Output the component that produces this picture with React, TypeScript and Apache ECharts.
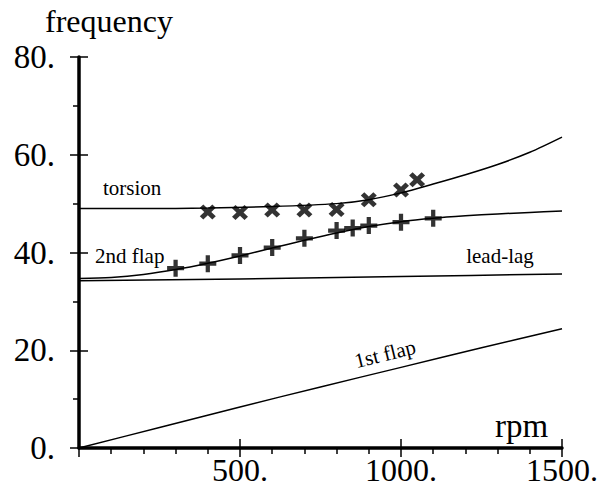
import React, { useEffect, useRef } from "react";
import * as echarts from "echarts";

// curves: rpm -> frequency
const firstFlapRpm = [0, 250, 500, 750, 1000, 1250, 1500];
const firstFlapFreq = [0, 4.2, 8.4, 12.5, 16.5, 20.5, 24.4];

const leadLagRpm = [0, 500, 1000, 1500];
const leadLagFreq = [34.2, 34.6, 35.1, 35.6];

const secondFlapRpm = [0, 100, 200, 300, 400, 500, 600, 700, 800, 900, 1000, 1100, 1200, 1300, 1400, 1500];
const secondFlapFreq = [34.7, 34.9, 35.5, 36.5, 37.8, 39.3, 40.9, 42.5, 44.0, 45.3, 46.3, 47.0, 47.5, 47.9, 48.2, 48.5];

const torsionRpm = [0, 200, 400, 600, 800, 900, 1000, 1100, 1200, 1300, 1400, 1500];
const torsionFreq = [49.0, 49.0, 49.1, 49.4, 50.0, 50.8, 52.2, 54.0, 55.9, 58.0, 60.5, 63.6];

// measured points
const crossRpm = [400, 500, 600, 700, 800, 900, 1000, 1050];
const crossFreq = [48.3, 48.2, 48.7, 48.7, 48.8, 50.8, 52.8, 54.9];

const plusRpm = [300, 400, 500, 600, 700, 800, 850, 900, 1000, 1100];
const plusFreq = [36.8, 37.7, 39.4, 41.0, 42.9, 44.5, 45.0, 45.5, 46.2, 47.0];

const xTicks = { min: 0, max: 1500, interval: 500 };
const yTicks = { min: 0, max: 80, interval: 20 };

const zip = (a: number[], b: number[]) => a.map((v, i) => [v, b[i]]);

const PLUS = "path://M6,0 H10 V6 H16 V10 H10 V16 H6 V10 H0 V6 H6 Z";
const CROSS = "path://M0,3.5 L3.5,0 L8,4.5 L12.5,0 L16,3.5 L11.5,8 L16,12.5 L12.5,16 L8,11.5 L3.5,16 L0,12.5 L4.5,8 Z";

const FONT = "'Liberation Serif', 'Times New Roman', Times, serif";

export default function App() {
  const ref = useRef<HTMLDivElement>(null);
  useEffect(() => {
    if (!ref.current) return;
    const chart = echarts.init(ref.current, null, { renderer: "svg" });
    const lineSeries = (name: string, data: number[][]) => ({
      name,
      type: "line",
      data,
      smooth: 0.3,
      symbol: "none",
      lineStyle: { color: "#000", width: 1.5 },
      z: 2,
    });
    const tickStyle = { color: "#000", width: 1.5 };
    const txt = (text: string, x: number, y: number, size: number, extra: any = {}) => ({
      type: "text",
      x,
      y,
      ...extra,
      style: { text, fontFamily: FONT, fontSize: size, fill: "#000", textVerticalAlign: "middle", ...(extra.style || {}) },
    });
    chart.setOption({
      animation: false,
      backgroundColor: "#fff",
      grid: { left: 79, right: 42, top: 57, bottom: 41, containLabel: false, outerBoundsMode: "none" },
      xAxis: [
        {
          type: "value",
          ...xTicks,
          position: "bottom",
          axisLine: { show: true, onZero: false, lineStyle: { color: "#000", width: 3.5 } },
          axisTick: { show: true, length: 9, lineStyle: tickStyle },
          minorTick: { show: true, splitNumber: 5, length: 6, lineStyle: tickStyle },
          splitLine: { show: false },
          axisLabel: {
            fontFamily: FONT,
            fontSize: 32,
            lineHeight: 26,
            color: "#000",
            margin: 9,
            formatter: (v: number) => (v === 0 ? "" : v + "."),
          },
        },
        {
          type: "value",
          ...xTicks,
          position: "bottom",
          axisLine: { show: false, onZero: false },
          axisTick: { show: true, inside: true, length: 9, lineStyle: tickStyle },
          splitLine: { show: false },
          axisLabel: { show: false },
        },
      ],
      yAxis: [
        {
          type: "value",
          ...yTicks,
          position: "left",
          axisLine: { show: true, onZero: false, lineStyle: { color: "#000", width: 3.5 } },
          axisTick: { show: true, length: 9, lineStyle: tickStyle },
          minorTick: { show: true, splitNumber: 2, length: 6, lineStyle: tickStyle },
          splitLine: { show: false },
          axisLabel: {
            fontFamily: FONT,
            fontSize: 33,
            color: "#000",
            margin: 24,
            formatter: (v: number) => v + ".",
          },
        },
        {
          type: "value",
          ...yTicks,
          position: "left",
          axisLine: { show: false, onZero: false },
          axisTick: { show: true, inside: true, length: 9, lineStyle: tickStyle },
          splitLine: { show: false },
          axisLabel: { show: false },
        },
      ],
      series: [
        lineSeries("1st flap", zip(firstFlapRpm, firstFlapFreq)),
        lineSeries("lead-lag", zip(leadLagRpm, leadLagFreq)),
        lineSeries("2nd flap", zip(secondFlapRpm, secondFlapFreq)),
        lineSeries("torsion", zip(torsionRpm, torsionFreq)),
        {
          name: "torsion measured",
          type: "scatter",
          data: zip(crossRpm, crossFreq),
          symbol: CROSS,
          symbolSize: [16, 15],
          itemStyle: { color: "#000" },
          z: 3,
        },
        {
          name: "2nd flap measured",
          type: "scatter",
          data: zip(plusRpm, plusFreq),
          symbol: PLUS,
          symbolSize: [17, 17],
          itemStyle: { color: "#000" },
          z: 3,
        },
      ],
      graphic: [
        txt("frequency", 45, 21, 32),
        txt("rpm", 495, 426, 33),
        txt("torsion", 103, 188, 21),
        txt("2nd flap", 95, 256, 21),
        txt("lead-lag", 500, 256, 21, { style: { textAlign: "center" } }),
        txt("1st flap", 385, 354, 21, { rotation: 0.24, style: { textAlign: "center" } }),
      ],
    });
    return () => chart.dispose();
  }, []);
  return <div ref={ref} style={{ width: 604, height: 489, position: "absolute", left: 0, top: 0 }} />;
}
